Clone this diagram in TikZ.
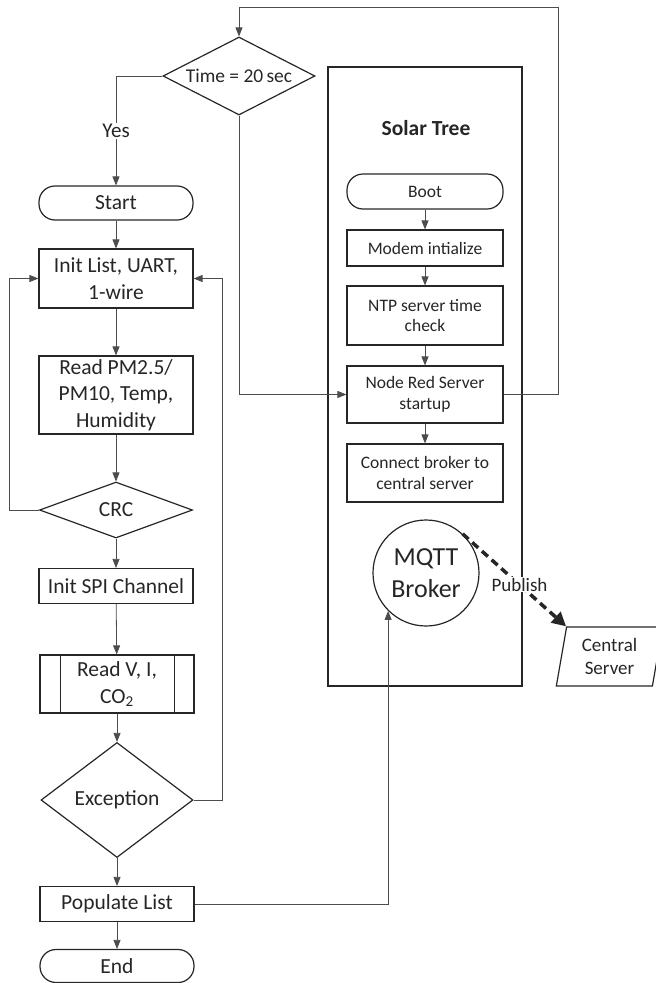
\documentclass[tikz,border=0pt]{standalone}
\usepackage{fontspec}
\setmainfont{Carlito}
\usetikzlibrary{shapes.geometric,arrows.meta}
\begin{document}
\begin{tikzpicture}[x=1pt,y=-1pt,
  every node/.style={text=black!85, align=center},
  box/.style={draw=black!85, line width=1.2pt, inner sep=2pt},
  proc/.style={box, rectangle, minimum width=154pt},
  term/.style={box, rectangle, rounded corners=16pt, minimum width=154pt, minimum height=34pt},
  dec/.style={box, diamond, inner sep=0pt, aspect=1.9},
  lf/.style={font=\fontsize{21.5}{26.5}\selectfont},
  sf/.style={font=\fontsize{17.5}{20.5}\selectfont},
  sproc/.style={proc, sf, minimum width=156pt},
  conn/.style={draw=black!70, line width=0.8pt},
  arr/.style={conn, -{Triangle[length=9pt,width=7pt]}},
]
\useasboundingbox (0,0) rectangle (656,983);

% left flow
\node[dec, font=\fontsize{19.5}{24}\selectfont, minimum width=152pt, minimum height=78pt] (time) at (239,76) {Time = 20\,sec};
\node[term, lf] (start) at (116,203) {Start};
\node[proc, lf, minimum height=59pt] (init) at (116,278.5) {Init List, UART,\\1-wire};
\node[proc, lf, minimum height=78pt] (read) at (116,395) {Read PM2.5/\\PM10, Temp,\\Humidity};
\node[dec, lf, minimum width=153pt, minimum height=56pt] (crc) at (116,510) {CRC};
\node[proc, lf, minimum height=35pt] (spi) at (116,586) {Init SPI Channel};
\node[proc, lf, minimum height=58pt] (rv) at (117,684) {Read V, I,\\CO\textsubscript{2}};
\draw[box] ([xshift=21pt]rv.north west) -- ([xshift=21pt]rv.south west);
\draw[box] ([xshift=-20pt]rv.north east) -- ([xshift=-20pt]rv.south east);
\node[dec, lf, minimum width=152pt, minimum height=115pt] (exc) at (117,800) {Exception};
\node[proc, lf, minimum height=35pt] (pop) at (117,904) {Populate List};
\node[term, lf, minimum height=33pt] (end) at (117,966) {End};

% solar tree
\node[draw=black!85, line width=1.1pt, minimum width=194pt, minimum height=619pt] (solar) at (425,376.5) {};
\node[font=\bfseries\fontsize{21.5}{25}\selectfont] (title) at (426,128) {Solar Tree};
\node[term, sf, minimum width=156pt, minimum height=35pt] (boot) at (425,191.5) {Boot};
\node[sproc, minimum height=36pt] (modem) at (425,248) {Modem intialize};
\node[sproc, minimum height=59pt] (ntp) at (425,315.5) {NTP server time\\check};
\node[sproc, minimum height=57pt] (nred) at (425,394.5) {Node Red Server\\startup};
\node[sproc, minimum height=58pt] (conn) at (425,473) {Connect broker to\\central server};
\node[box, circle, minimum size=106pt, inner sep=0pt, font=\fontsize{26}{32}\selectfont] (mqtt) at (426,573) {MQTT\\Broker};
\node[box, trapezium, trapezium left angle=80, trapezium right angle=100, trapezium stretches=true,
      minimum width=107pt, minimum height=59pt, font=\fontsize{19}{23}\selectfont] (cs) at (609.5,656.5) {Central\\Server};

% connectors left
\draw[arr] (time.west) -| node[pos=0.75, fill=white, inner sep=1pt, font=\fontsize{21}{25}\selectfont] (yes) {Yes} (start.north);
\draw[arr] (start) -- (init);
\draw[arr] (init) -- (read);
\draw[arr] (read) -- (crc);
\draw[arr] (crc) -- (spi);
\draw[arr] (spi) -- (rv);
\draw[arr] (rv) -- (exc);
\draw[arr] (exc) -- (pop);
\draw[arr] (pop) -- (end);
\draw[arr] (crc.west) -- ++(-30,0) |- (init.west);
\draw[arr] (exc.east) -- ++(29,0) |- (init.east);

% connectors solar tree
\draw[arr] (boot) -- (modem);
\draw[arr] (modem) -- (ntp);
\draw[arr] (ntp) -- (nred);
\draw[arr] (nred) -- (conn);
\draw[arr] (time.south) |- (nred.west);
\draw[arr] (nred.east) -| (558,7) -| (time.north);
\draw[arr] (pop.east) -| (mqtt.south west);
\draw[draw=black!85, line width=3.5pt, dash pattern=on 8pt off 5pt, -{Triangle[length=14pt,width=14pt]}]
  (mqtt.47) -- node[pos=0.55, fill=white, inner sep=1pt, font=\fontsize{19}{23}\selectfont] (pub) {Publish} (cs.top left corner);
\end{tikzpicture}
\end{document}
